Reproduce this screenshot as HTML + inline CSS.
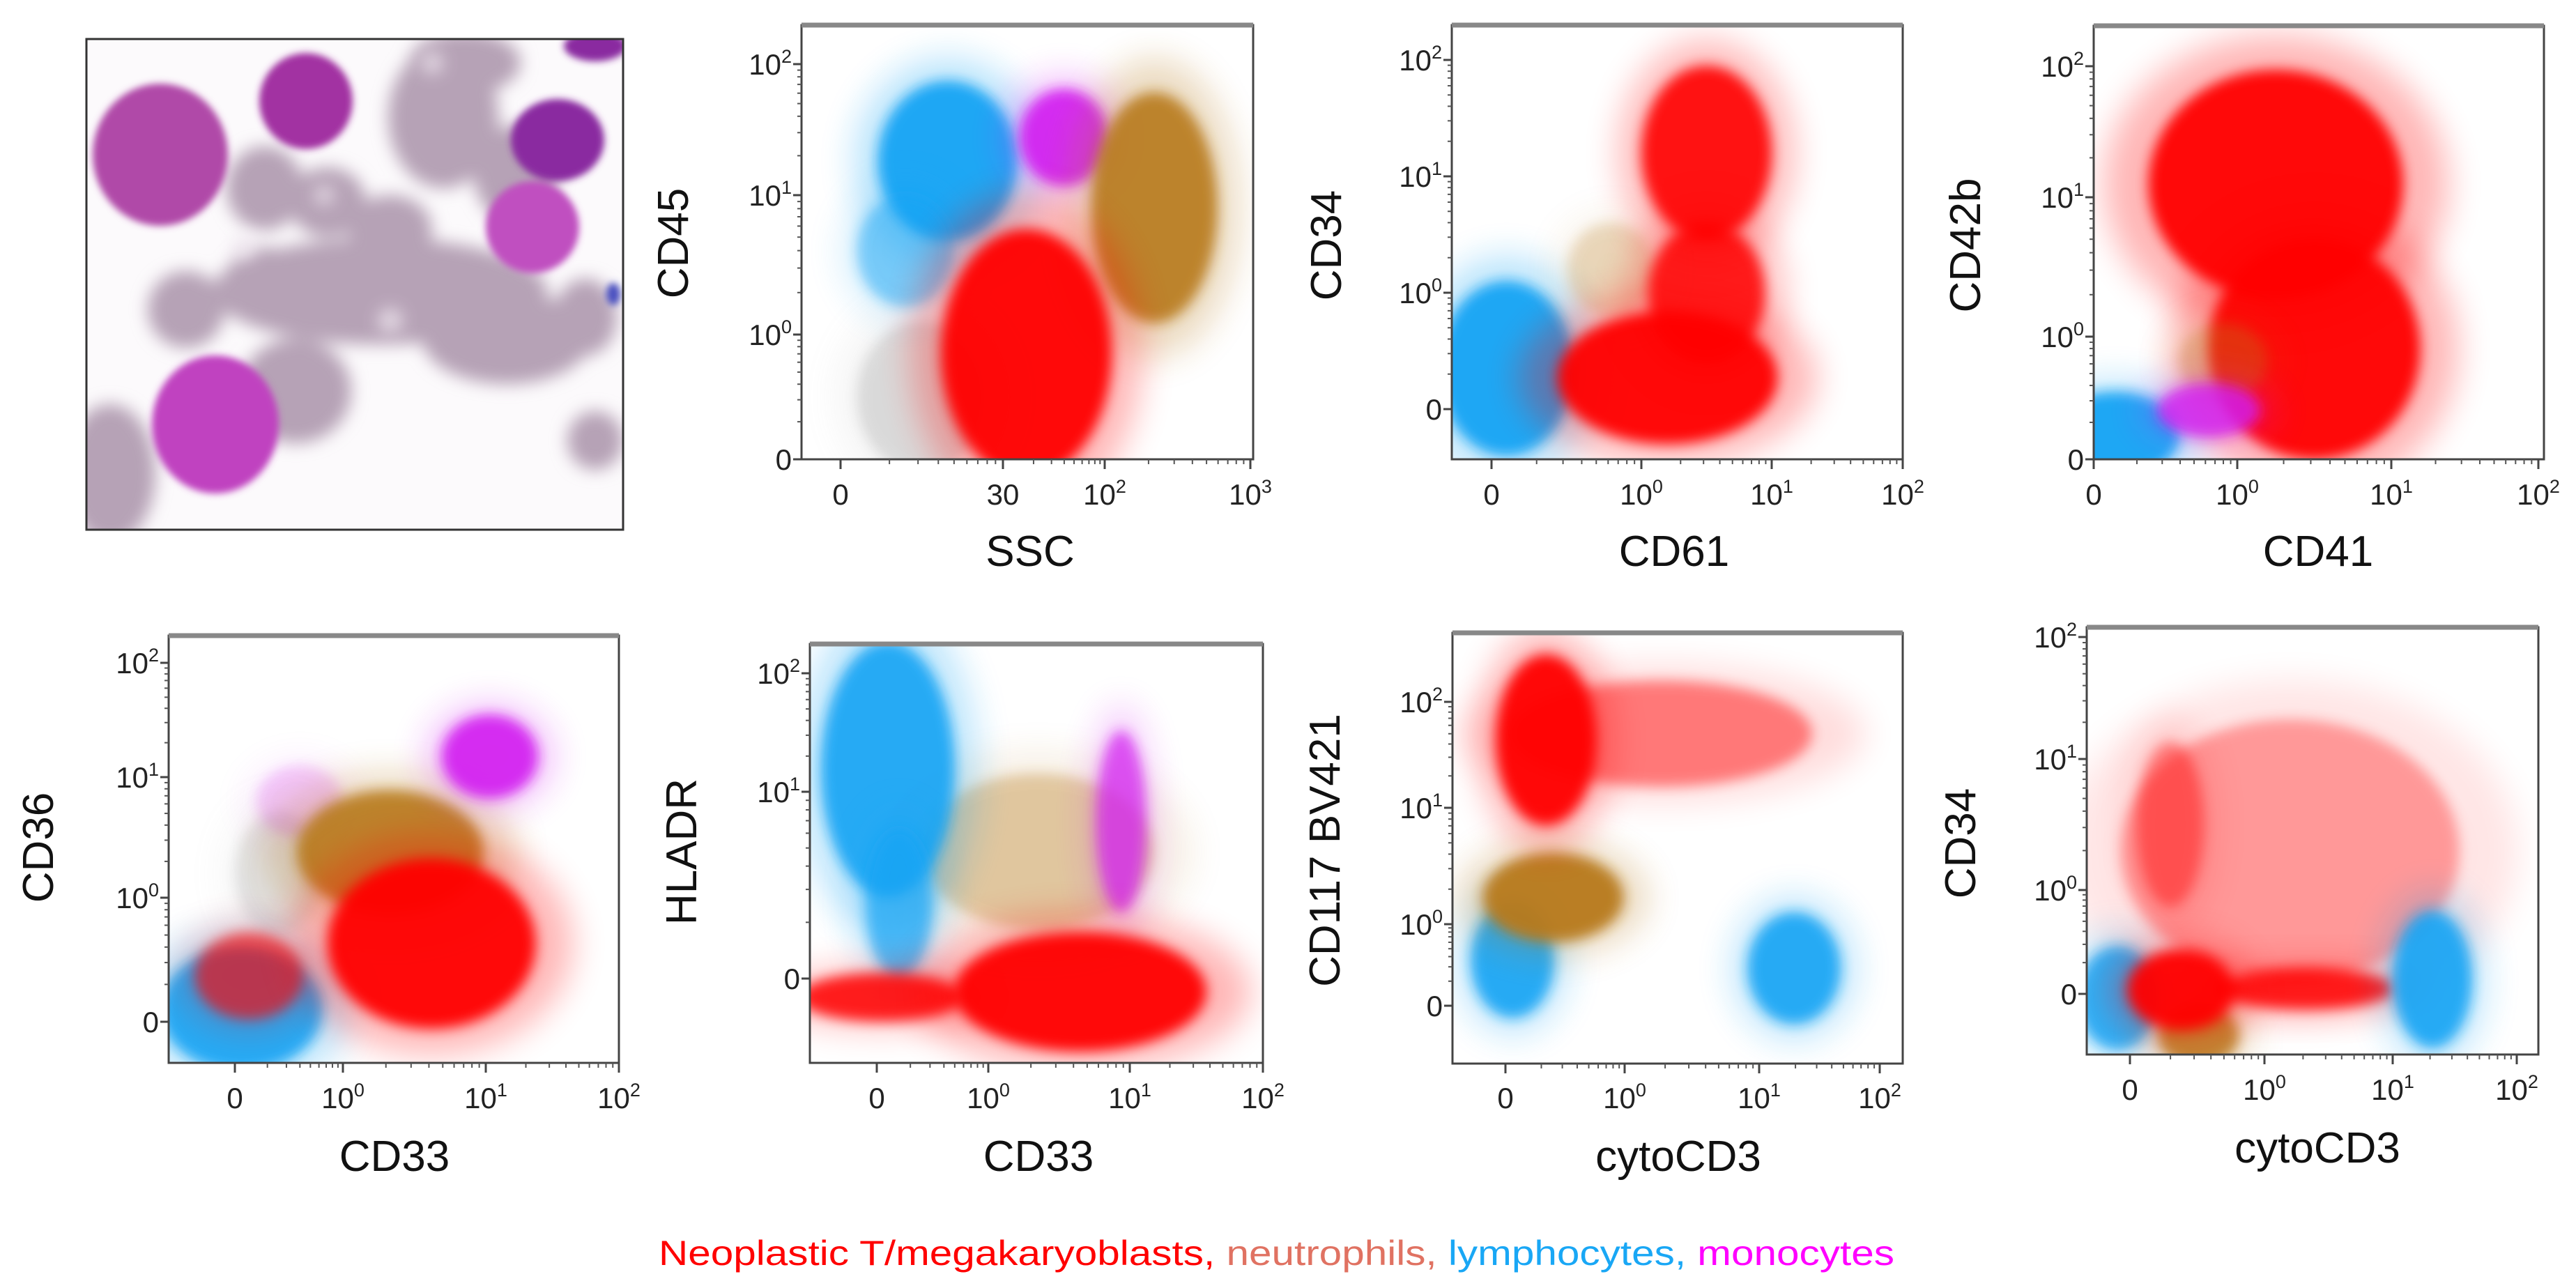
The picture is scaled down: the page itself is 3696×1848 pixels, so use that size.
<!DOCTYPE html>
<html><head><meta charset="utf-8">
<style>
html,body{margin:0;padding:0;background:#fff;}
svg{display:block;font-family:"Liberation Sans",Arial,sans-serif;}
</style></head>
<body>
<svg id="fig" width="3696" height="1848" viewBox="0 0 3696 1848" xmlns="http://www.w3.org/2000/svg">
<defs>
<filter id="bcore" x="-50%" y="-50%" width="200%" height="200%"><feGaussianBlur stdDeviation="9"/></filter>
<filter id="bhalo" x="-50%" y="-50%" width="200%" height="200%"><feGaussianBlur stdDeviation="24"/></filter>
<filter id="bcell" x="-30%" y="-30%" width="160%" height="160%"><feGaussianBlur stdDeviation="5"/></filter>
<filter id="bcell2" x="-30%" y="-30%" width="160%" height="160%"><feGaussianBlur stdDeviation="12"/></filter>
</defs>
<g id="micro">
<clipPath id="mclip"><rect x="124" y="56" width="770" height="704"/></clipPath>
<g clip-path="url(#mclip)">
<rect x="124" y="56" width="770" height="704" fill="#fcfafc"/>
<g filter="url(#bcell2)" fill="#b6a2b6">
<ellipse cx="636" cy="168" rx="79" ry="102"/><ellipse cx="667" cy="90" rx="80" ry="45"/>
<ellipse cx="740" cy="250" rx="60" ry="70"/>
<ellipse cx="380" cy="270" rx="55" ry="60"/><ellipse cx="470" cy="290" rx="55" ry="50"/>
<ellipse cx="560" cy="330" rx="60" ry="50"/>
<ellipse cx="545" cy="418" rx="240" ry="76"/><ellipse cx="267" cy="444" rx="55" ry="55"/>
<ellipse cx="727" cy="485" rx="121" ry="66"/><ellipse cx="424" cy="561" rx="80" ry="75"/>
<ellipse cx="380" cy="410" rx="60" ry="55"/>
<ellipse cx="158" cy="680" rx="65" ry="100"/><ellipse cx="854" cy="632" rx="40" ry="42"/>
<ellipse cx="840" cy="455" rx="45" ry="55"/>
</g>
<g filter="url(#bcell2)" fill="#efe6ef" opacity="0.8">
<ellipse cx="465" cy="280" rx="14" ry="14"/><ellipse cx="560" cy="460" rx="18" ry="18"/>
<ellipse cx="350" cy="355" rx="18" ry="18"/><ellipse cx="620" cy="90" rx="16" ry="16"/>
</g>
<g filter="url(#bcell)">
<ellipse cx="230" cy="222" rx="97" ry="102" fill="#b04aa8"/>
<ellipse cx="439" cy="145" rx="67" ry="69" fill="#a232a2"/>
<ellipse cx="800" cy="201" rx="67" ry="59" fill="#8a2aa0"/>
<ellipse cx="764" cy="326" rx="67" ry="66" fill="#c050c0"/>
<ellipse cx="309" cy="609" rx="91" ry="99" fill="#c043c0"/>
<ellipse cx="854" cy="66" rx="45" ry="22" fill="#8a2aa0"/>
<ellipse cx="880" cy="422" rx="10" ry="16" fill="#4a50c0"/>
</g>
</g>
<rect x="124" y="56" width="770" height="704" fill="none" stroke="#333" stroke-width="3"/>
</g>
<g id="plots"></g>
<text x="945" y="1815" font-size="50" textLength="1773" lengthAdjust="spacingAndGlyphs"><tspan fill="#ff0000">Neoplastic T/megakaryoblasts,</tspan><tspan fill="#e07262"> neutrophils,</tspan><tspan fill="#19a7f5"> lymphocytes,</tspan><tspan fill="#ff00ff"> monocytes</tspan></text>
</svg>
<script>
// population colours
const popColor = {lymph:'#18a4f4', blast:'#ff0000', neut:'#b87a1e', mono:'#d21cf0', other:'#9a9a9a'};

// ---- Panel 2: CD45 vs SSC (values in tick-index units) ----
const p2_xTicks = ['0','30','10^2','10^3'];
const p2_yTicks = ['0','10^0','10^1','10^2'];
const p2_pop = ['other','lymph','lymph','mono','neut','blast'];
const p2_cx  = [0.5, 0.66, 0.4, 1.6, 2.34, 1.23];
const p2_cy  = [0.5, 2.26, 1.6, 2.44, 1.91, 0.85];
const p2_sx  = [0.4, 0.45, 0.3, 0.43, 0.45, 0.7];
const p2_sy  = [0.6, 0.6, 0.4, 0.37, 0.85, 0.95];
const p2_den = [0.3, 0.95, 0.5, 0.9, 0.9, 0.95];

// ---- Panel 3: CD34 vs CD61 ----
const p3_xTicks = ['0','10^0','10^1','10^2'];
const p3_yTicks = ['0','10^0','10^1','10^2'];
const p3_pop = ['lymph','neut','blast','blast','blast'];
const p3_cx  = [0.1, 0.8, 1.2, 1.5, 1.5];
const p3_cy  = [0.35, 1.2, 0.27, 1.0, 2.2];
const p3_sx  = [0.45, 0.3, 0.8, 0.45, 0.5];
const p3_sy  = [0.75, 0.4, 0.57, 0.6, 0.75];
const p3_den = [0.95, 0.25, 0.95, 0.85, 0.9];

// ---- Panel 4: CD42b vs CD41 ----
const p4_xTicks = ['0','10^0','10^1','10^2'];
const p4_yTicks = ['0','10^0','10^1','10^2'];
const p4_pop = ['blast','blast','neut','lymph','mono'];
const p4_cx  = [1.25, 1.5, 0.9, 0.15, 0.8];
const p4_cy  = [2.1, 0.9, 0.8, 0.2, 0.4];
const p4_sx  = [0.85, 0.7, 0.3, 0.45, 0.35];
const p4_sy  = [0.85, 0.85, 0.3, 0.35, 0.22];
const p4_den = [0.95, 0.95, 0.3, 0.95, 0.8];

// ---- Panel 5: CD36 vs CD33 ----
const p5_xTicks = ['0','10^0','10^1','10^2'];
const p5_yTicks = ['0','10^0','10^1','10^2'];
const p5_pop = ['other','mono','lymph','blast','neut','blast','mono'];
const p5_cx  = [0.4, 0.6, 0.06, 0.13, 1.33, 1.62, 2.03];
const p5_cy  = [1.2, 1.8, 0.1, 0.37, 1.38, 0.63, 2.18];
const p5_sx  = [0.4, 0.4, 0.75, 0.5, 0.7, 0.76, 0.35];
const p5_sy  = [0.5, 0.3, 0.5, 0.35, 0.51, 0.69, 0.36];
const p5_den = [0.25, 0.2, 0.9, 0.6, 0.9, 0.95, 0.9];

// ---- Panel 6: HLADR vs CD33 ----
const p6_xTicks = ['0','10^0','10^1','10^2'];
const p6_yTicks = ['0','10^1','10^2'];
const p6_pop = ['neut','lymph','lymph','mono','blast','blast'];
const p6_cx  = [1.35, 0.1, 0.2, 1.94, 0.04, 1.65];
const p6_cy  = [0.68, 1.19, 0.4, 0.84, -0.1, -0.07];
const p6_sx  = [0.88, 0.6, 0.3, 0.18, 0.74, 0.94];
const p6_sy  = [0.44, 0.88, 0.4, 0.56, 0.13, 0.32];
const p6_den = [0.35, 0.9, 0.7, 0.7, 0.85, 0.95];

// ---- Panel 7: CD117 BV421 vs cytoCD3 ----
const p7_xTicks = ['0','10^0','10^1','10^2'];
const p7_yTicks = ['0','10^0','10^1','10^2'];
const p7_pop = ['blast','lymph','lymph','neut','blast'];
const p7_cx  = [1.27, 0.06, 2.29, 0.4, 0.34];
const p7_cy  = [2.7, 0.56, 0.46, 1.23, 2.64];
const p7_sx  = [1.2, 0.35, 0.38, 0.59, 0.42];
const p7_sy  = [0.5, 0.66, 0.66, 0.41, 0.8];
const p7_den = [0.45, 0.9, 0.9, 0.95, 0.95];

// ---- Panel 8: CD34 vs cytoCD3 ----
const p8_xTicks = ['0','10^0','10^1','10^2'];
const p8_yTicks = ['0','10^0','10^1','10^2'];
const p8_pop = ['blast','blast','lymph','neut','blast','blast','lymph'];
const p8_cx  = [1.2, 0.3, -0.09, 0.51, 1.32, 0.38, 2.32];
const p8_cy  = [1.3, 1.5, -0.04, -0.4, 0.05, 0.04, 0.14];
const p8_sx  = [1.3, 0.25, 0.3, 0.3, 0.68, 0.4, 0.32];
const p8_sy  = [1.1, 0.65, 0.5, 0.3, 0.2, 0.39, 0.66];
const p8_den = [0.33, 0.4, 0.85, 0.85, 0.85, 0.95, 0.9];

// layout (pixel geometry of each panel)
const panels = [
 {id:'p2', box:[1150,36,1798,659], xPx:[1206,1439,1585,1794], yPx:[659,480,280,92], xT:p2_xTicks, yT:p2_yTicks, pop:p2_pop, cx:p2_cx, cy:p2_cy, sx:p2_sx, sy:p2_sy, den:p2_den, xTitle:'SSC', yTitle:'CD45', xTitleX:1478, xTitleY:812, yTitleX:965, yTitleY:349, labY:724},
 {id:'p3', box:[2083,36,2730,659], xPx:[2140,2355,2542,2730], yPx:[587,420,253,86], xT:p3_xTicks, yT:p3_yTicks, pop:p3_pop, cx:p3_cx, cy:p3_cy, sx:p3_sx, sy:p3_sy, den:p3_den, xTitle:'CD61', yTitle:'CD34', xTitleX:2402, xTitleY:812, yTitleX:1902, yTitleY:352, labY:724},
 {id:'p4', box:[3004,37,3650,659], xPx:[3004,3210,3431,3642], yPx:[659,483,283,95], xT:p4_xTicks, yT:p4_yTicks, pop:p4_pop, cx:p4_cx, cy:p4_cy, sx:p4_sx, sy:p4_sy, den:p4_den, xTitle:'CD41', yTitle:'CD42b', xTitleX:3326, xTitleY:812, yTitleX:2819, yTitleY:352, labY:724},
 {id:'p5', box:[242,912,888,1525], xPx:[337,492,697,888], yPx:[1466,1288,1115,951], xT:p5_xTicks, yT:p5_yTicks, pop:p5_pop, cx:p5_cx, cy:p5_cy, sx:p5_sx, sy:p5_sy, den:p5_den, xTitle:'CD33', yTitle:'CD36', xTitleX:566, xTitleY:1680, yTitleX:54, yTitleY:1216, labY:1590},
 {id:'p6', box:[1162,924,1812,1525], xPx:[1258,1418,1621,1812], yPx:[1404,1136,966], xT:p6_xTicks, yT:p6_yTicks, pop:p6_pop, cx:p6_cx, cy:p6_cy, sx:p6_sx, sy:p6_sy, den:p6_den, xTitle:'CD33', yTitle:'HLADR', xTitleX:1490, xTitleY:1680, yTitleX:977, yTitleY:1222, labY:1590},
 {id:'p7', box:[2084,908,2730,1526], xPx:[2160,2331,2524,2697], yPx:[1443,1326,1159,1007], xT:p7_xTicks, yT:p7_yTicks, pop:p7_pop, cx:p7_cx, cy:p7_cy, sx:p7_sx, sy:p7_sy, den:p7_den, xTitle:'cytoCD3', yTitle:'CD117 BV421', xTitleX:2408, xTitleY:1680, yTitleX:1900, yTitleY:1220, labY:1590},
 {id:'p8', box:[2994,900,3642,1513], xPx:[3056,3249,3433,3611], yPx:[1426,1277,1089,914], xT:p8_xTicks, yT:p8_yTicks, pop:p8_pop, cx:p8_cx, cy:p8_cy, sx:p8_sx, sy:p8_sy, den:p8_den, xTitle:'cytoCD3', yTitle:'CD34', xTitleX:3325, xTitleY:1668, yTitleX:2812, yTitleY:1210, labY:1578}
];

const NS = 'http://www.w3.org/2000/svg';
function mk(tag, attrs, parent){ const e=document.createElementNS(NS,tag); for(const k in attrs) e.setAttribute(k,attrs[k]); if(parent) parent.appendChild(e); return e; }
function makeScale(px){
  return function(v){
    const n=px.length; let i=Math.floor(v);
    if(i<0) i=0; if(i>n-2) i=n-2;
    return px[i]+(v-i)*(px[i+1]-px[i]);
  };
}
function tickLabel(parent, str, x, y, anchor){
  const t=mk('text',{x:x,y:y,'font-size':42,'text-anchor':anchor,fill:'#222'},parent);
  if(str.indexOf('^')>=0){
    const [b,s]=str.split('^');
    t.appendChild(document.createTextNode(b));
    const ts=mk('tspan',{'font-size':27,dy:-17},t); ts.textContent=s;
  } else t.textContent=str;
  return t;
}

const root=document.getElementById('plots');
panels.forEach(p=>{
  const g=mk('g',{},root);
  
  
  const xs=makeScale(p.xPx), ys=makeScale(p.yPx);
  const [x0,y0,x1,y1]=p.box;
  const cp=mk('clipPath',{id:'clip-'+p.id},g);
  mk('rect',{x:x0,y:y0,width:x1-x0,height:y1-y0},cp);
  const marks=mk('g',{'clip-path':'url(#clip-'+p.id+')'},g);
  
  
  for(let i=0;i<p.pop.length;i++){
    const cxp=xs(p.cx[i]), cyp=ys(p.cy[i]);
    const rx=Math.abs(xs(p.cx[i]+p.sx[i])-xs(p.cx[i]-p.sx[i]))/2;
    const ry=Math.abs(ys(p.cy[i]+p.sy[i])-ys(p.cy[i]-p.sy[i]))/2;
    const col=popColor[p.pop[i]];
    const h=mk('ellipse',{cx:cxp,cy:cyp,rx:rx*1.35,ry:ry*1.3,fill:col,opacity:p.den[i]*0.3,filter:'url(#bhalo)'},marks);
    
    
    const c=mk('ellipse',{cx:cxp,cy:cyp,rx:rx,ry:ry,fill:col,opacity:p.den[i],filter:'url(#bcore)'},marks);
    
    
  }
  const fr=mk('rect',{x:x0,y:y0,width:x1-x0,height:y1-y0,fill:'none',stroke:'#444','stroke-width':3},g);
  
  
  mk('line',{x1:x0,y1:y0,x2:x1,y2:y0,stroke:'#888','stroke-width':7},g);
  const ax=mk('g',{},g);
  
  
  p.xT.forEach((lab,i)=>{
    const x=xs(i);
    mk('line',{x1:x,y1:y1,x2:x,y2:y1+14,stroke:'#444','stroke-width':3},ax);
    if(i>0) for(let k=2;k<10;k++){ const xm=xs(i-1+Math.log10(k)); if(xm>x0&&xm<x1) mk('line',{x1:xm,y1:y1,x2:xm,y2:y1+7,stroke:'#555','stroke-width':2},ax); }
    const t=tickLabel(ax,lab,x,p.labY,'middle');
    
    
  });
  const ay=mk('g',{},g);
  
  
  p.yT.forEach((lab,i)=>{
    const y=ys(i);
    mk('line',{x1:x0-12,y1:y,x2:x0,y2:y,stroke:'#444','stroke-width':3},ay);
    if(i>0) for(let k=2;k<10;k++){ const ym=ys(i-1+Math.log10(k)); if(ym>y0&&ym<y1) mk('line',{x1:x0-6,y1:ym,x2:x0,y2:ym,stroke:'#555','stroke-width':2},ay); }
    const t=tickLabel(ay,lab,x0-14,y+15,'end');
    
    
  });
  const xt=mk('text',{x:p.xTitleX,y:p.xTitleY,'font-size':62,'text-anchor':'middle',fill:'#111'},g);
  xt.textContent=p.xTitle;
  
  
  const yt=mk('text',{x:0,y:0,'font-size':62,'text-anchor':'middle',fill:'#111',transform:'translate('+(p.yTitleX+22)+','+p.yTitleY+') rotate(-90)'},g);
  yt.textContent=p.yTitle;
  
  
});
</script>
</body></html>
